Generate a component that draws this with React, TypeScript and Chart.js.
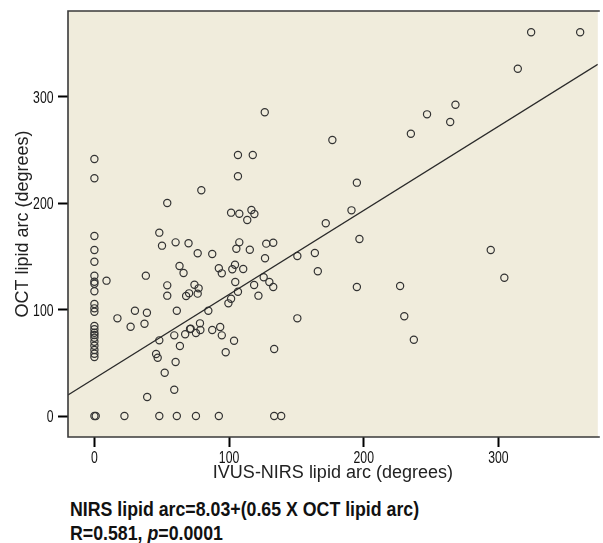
import React, { useEffect, useRef } from "react";
import { Chart, registerables } from "chart.js";

Chart.register(...registerables);

// IVUS-NIRS lipid arc (x) and OCT lipid arc (y), degrees
const ivusNirsArc = [
  0, 0, 0, 0, 0, 0, 0, 0, 0, 0, 0, 0, 0, 0, 0, 0, 0, 0, 0, 0, 0, 0, 0, 1,
  9, 54.1, 48.2, 50.2, 60.3, 69.9, 63.2, 66.2, 38.2, 54.1, 54.1, 68.1, 70.3,
  17.1, 30.1, 39, 26.9, 37.2, 61.2, 48.2, 59.3, 67.4, 71, 63.5, 45.8, 47, 60.3,
  52.2, 59.3, 39.2,
  22.3, 48.2, 61.2, 75.4, 92.4, 133.5, 138.7,
  106.6, 117.6, 106.6, 79.4, 101.5, 107.6, 116.6, 118.8, 113.5,
  107.6, 105.4, 115.4, 127.6, 132.8, 76.7, 87.5,
  126.5, 176.7, 194.9, 190.9,
  126.7, 150.7,
  92.4, 94.6, 104.4, 102.4, 110.5,
  74.3, 77.4, 76.7,
  104.6, 106.6, 101.5, 99.5,
  118.6, 125.7, 129.9, 132.8, 121.8,
  84.6, 150.7, 78.4, 71.5, 78.7, 75.4, 87.5, 93.4, 94.6, 103.7, 97.5, 133.5,
  171.8, 196.8, 163.7, 165.9, 194.9, 227,
  235, 247, 264.2, 268.1, 314.4, 324.3, 360.7,
  294.3, 304.4, 230.1, 237.2,
];

const octArc = [
  241.5, 223.4, 169.2, 156, 145, 131.9, 126.2, 124.3, 117.2, 105.3, 101.2, 98,
  84.6, 81.5, 78.2, 76.1, 73.6, 69.8, 66.1, 62, 58.5, 55.5, 0, 0,
  127.2, 200.2, 172.3, 160.1, 163.2, 162.3, 141, 134.4, 131.9, 122.8, 113.1, 112.8, 115.3,
  91.8, 99, 97.1, 83.9, 86.7, 99, 71.1, 75.8, 76.8, 81.8, 65.8, 58.3, 54.8, 50.8,
  40.7, 24.7, 17.9,
  0, 0, 0, 0, 0, 0, 0,
  245.3, 245.3, 225.3, 212.1, 191.1, 190.1, 193.6, 189.8, 184.2,
  163.2, 157.2, 156.3, 162, 162.9, 152.9, 152.3,
  285.4, 259.4, 219.3, 193.3,
  148.2, 150.4,
  138.8, 134.1, 142.2, 137.9, 138.2,
  123.4, 120, 115,
  125.9, 116.8, 110.2, 105.9,
  123.1, 130.4, 125.9, 121.2, 113.1,
  99, 91.8, 87.1, 82, 80.8, 78, 80.8, 83.6, 75.8, 70.8, 59.9, 63,
  181.1, 166.4, 153.2, 136, 121.2, 122.2,
  265.3, 283.5, 276.3, 292.5, 326.4, 360.6, 360.6,
  156, 130, 93.7, 71.7,
];

// Fitted regression line end points
const fitX = [-19.6, 373.8];
const fitY = [19.7, 330.5];

const xTicks = [0, 100, 200, 300];
const yTicks = [0, 100, 200, 300];

const xTitle = "IVUS-NIRS lipid arc (degrees)";
const yTitle = "OCT lipid arc (degrees)";
const noteLine1 = "NIRS lipid arc=8.03+(0.65 X OCT lipid arc)";
const noteR = "R=0.581, ";
const noteP = "p";
const notePValue = "=0.0001";

const PLOT_BG = "#f0ecdc";
const FRAME = "#3a3a3a";
const TICK_FONT = '17px "Liberation Sans", Arial, sans-serif';
const SQUEEZE = 0.72;

const framePlugin = {
  id: "frame",
  beforeDraw(chart: any) {
    const { ctx, chartArea: a } = chart;
    ctx.save();
    ctx.fillStyle = PLOT_BG;
    ctx.fillRect(a.left, a.top, a.right - a.left, a.bottom - a.top);
    ctx.restore();
  },
  afterDraw(chart: any) {
    const { ctx, chartArea: a } = chart;
    ctx.save();
    ctx.strokeStyle = FRAME;
    ctx.lineWidth = 1.6;
    ctx.beginPath();
    ctx.moveTo(a.right + 2, a.top);
    ctx.lineTo(a.left, a.top);
    ctx.lineTo(a.left, a.bottom);
    ctx.lineTo(a.right + 2, a.bottom);
    ctx.stroke();

    // condensed tick labels
    const xs = chart.scales.x;
    const ys = chart.scales.y;
    ctx.font = TICK_FONT;
    ctx.fillStyle = "#111";
    ctx.textBaseline = "alphabetic";
    for (const v of xs.ticks) {
      const px = xs.getPixelForValue(v.value);
      ctx.save();
      ctx.translate(px, a.bottom + 25.5);
      ctx.scale(SQUEEZE, 1);
      ctx.textAlign = "center";
      ctx.fillText(String(v.value), 0, 0);
      ctx.restore();
    }
    for (const v of ys.ticks) {
      const py = ys.getPixelForValue(v.value);
      ctx.save();
      ctx.translate(a.left - 14.5, py + 6);
      ctx.scale(SQUEEZE, 1);
      ctx.textAlign = "right";
      ctx.fillText(String(v.value), 0, 0);
      ctx.restore();
    }
    ctx.restore();
  },
};

export default function App() {
  const ref = useRef<HTMLCanvasElement | null>(null);

  useEffect(() => {
    if (!ref.current) return;
    const titleFont = { family: '"Liberation Sans", Arial, sans-serif', size: 18 };
    const chart = new Chart(ref.current, {
      type: "scatter",
      data: {
        datasets: [
          {
            type: "scatter",
            data: fitX.map((x, i) => ({ x, y: fitY[i] })),
            showLine: true,
            borderColor: "#2a2a2a",
            borderWidth: 1.2,
            pointRadius: 0,
            fill: false,
          } as any,
          {
            type: "scatter",
            data: ivusNirsArc.map((x, i) => ({ x, y: octArc[i] })),
            pointRadius: 3.6,
            pointBorderWidth: 1.2,
            borderColor: "#333",
            backgroundColor: "rgba(0,0,0,0)",
            pointStyle: "circle",
          } as any,
        ],
      },
      options: {
        animation: false,
        responsive: false,
        devicePixelRatio: 1,
        layout: { padding: { top: 11, right: 0, left: 0, bottom: 0 } },
        plugins: { legend: { display: false }, tooltip: { enabled: false } },
        scales: {
          x: {
            type: "linear",
            min: -19.6,
            max: 373.8,
            afterBuildTicks: (s: any) => {
              s.ticks = xTicks.map((v) => ({ value: v }));
            },
            afterFit: (s: any) => {
              s.height = 53;
            },
            grid: { drawOnChartArea: false, drawTicks: true, tickLength: 10, tickWidth: 2, tickColor: "#000" },
            border: { display: false },
            ticks: { display: false, autoSkip: false },
            title: { display: true, text: xTitle, font: titleFont, color: "#222", padding: { top: 0, bottom: 6 } },
          },
          y: {
            type: "linear",
            min: -19.7,
            max: 380.6,
            afterBuildTicks: (s: any) => {
              s.ticks = yTicks.map((v) => ({ value: v }));
            },
            afterFit: (s: any) => {
              s.width = 68;
            },
            grid: { drawOnChartArea: false, drawTicks: true, tickLength: 10, tickWidth: 2, tickColor: "#000" },
            border: { display: false },
            ticks: { display: false, autoSkip: false },
            title: { display: true, text: yTitle, font: titleFont, color: "#222", padding: { top: 12.5, bottom: 0 } },
          },
        },
      },
      plugins: [framePlugin],
    } as any);
    return () => chart.destroy();
  }, []);

  const noteStyle: React.CSSProperties = {
    position: "absolute",
    left: 70,
    fontFamily: '"Liberation Sans", Arial, sans-serif',
    fontWeight: "bold",
    fontSize: 21,
    lineHeight: "24px",
    color: "#111",
    whiteSpace: "nowrap",
    margin: 0,
    transform: "scaleX(0.845)",
    transformOrigin: "0 0",
  };

  return (
    <div style={{ position: "absolute", left: 0, top: 0, width: 603, height: 543, background: "#fff", overflow: "hidden" }}>
      <canvas ref={ref} width={603} height={490} style={{ display: "block", width: 603, height: 490 }} />
      <div style={{ ...noteStyle, top: 497 }}>{noteLine1}</div>
      <div style={{ ...noteStyle, top: 521 }}>
        {noteR}
        <i>{noteP}</i>
        {notePValue}
      </div>
    </div>
  );
}
